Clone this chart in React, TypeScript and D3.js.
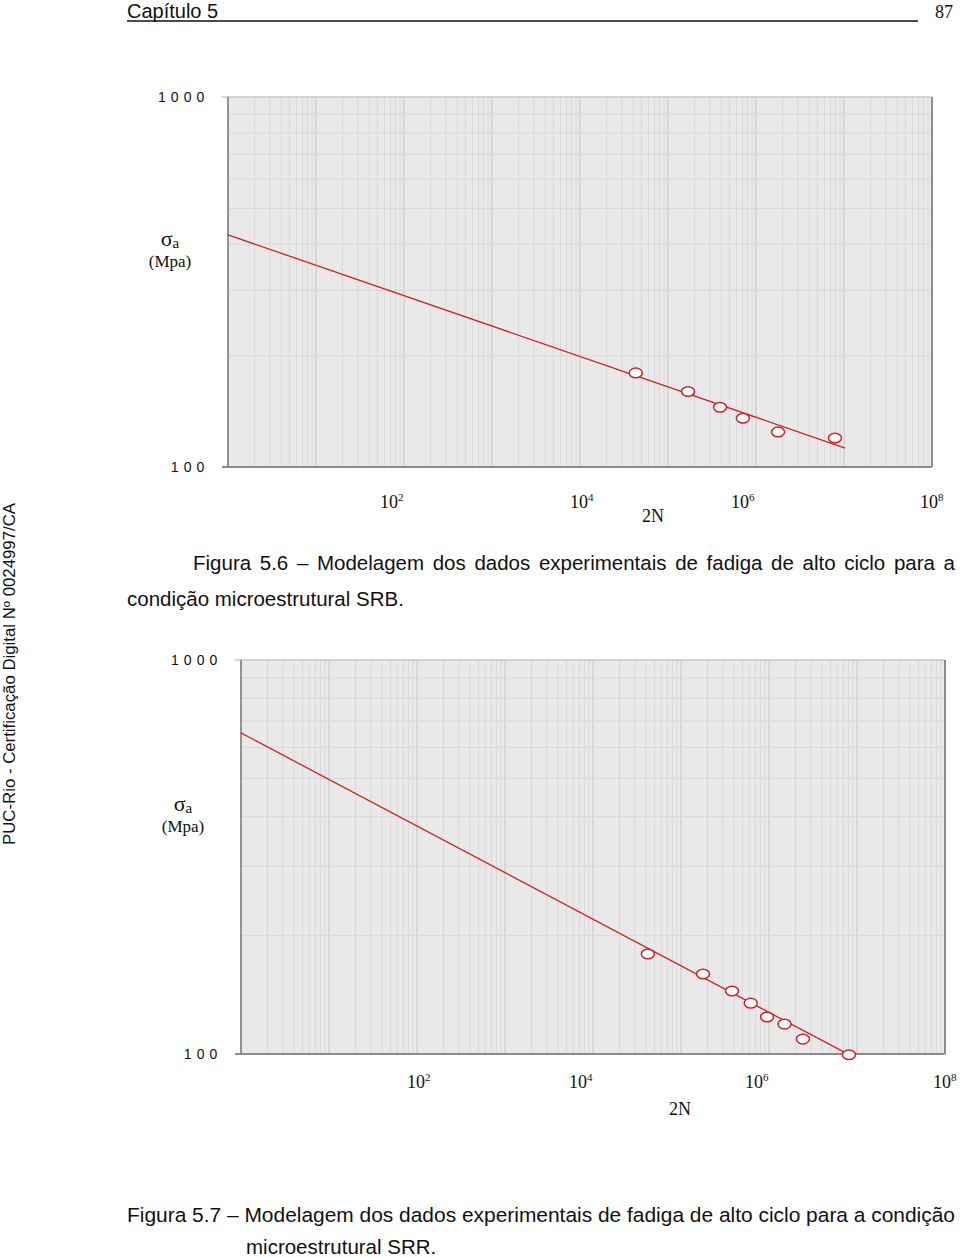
import React from "react";
import * as d3 from "d3";

// ---------- Data ----------
// Figura 5.6 – SRB
const srbN = [4.3e4, 1.69e5, 3.9e5, 7.1e5, 1.78e6, 7.9e6];
const srbS = [179.6, 160, 145, 135.5, 124.4, 119.8];
const srbFitN = [1, 1.03e7];
const srbFitS = [424, 112.5];

// Figura 5.7 – SRR
const srrN = [4.2e4, 1.78e5, 3.8e5, 6.2e5, 9.5e5, 1.5e6, 2.43e6, 8.1e6];
const srrS = [179.4, 159.6, 144.5, 134.6, 124.1, 119.1, 109.1, 99.6];
const srrFitN = [1, 8.1e6];
const srrFitS = [653, 99.6];

const xDomain = [1, 1e8];
const yDomain = [100, 1000];
const xTickExps = [2, 4, 6, 8];
const yTickValues = [100, 1000];
const yTickLabels = ["1 0 0", "1 0 0 0"];

const caption1Line1 = "Figura 5.6 – Modelagem dos dados experimentais de fadiga de alto ciclo para a";
const caption1Line2 = "condição microestrutural SRB.";
const caption2Line1 = "Figura 5.7 – Modelagem dos dados experimentais de fadiga de alto ciclo para a condição";
const caption2Line2 = "microestrutural SRR.";

const RED = "#d21f26";
const SANS = "'Liberation Sans', Arial, sans-serif";
const SERIF = "'Liberation Serif', 'Times New Roman', serif";
const CAP_SIZE = 20.5;

function measure(text: string, font: string): number {
  if (typeof document === "undefined") return text.length * 9;
  const c = document.createElement("canvas").getContext("2d");
  if (!c) return text.length * 9;
  c.font = font;
  return c.measureText(text).width;
}

type ChartProps = {
  left: number;
  top: number;
  width: number;
  height: number;
  ns: number[];
  ss: number[];
  fitN: number[];
  fitS: number[];
  tickLabelDx: number[];
  tickLabelDy: number;
  nLabelX: number;
  nLabelDy: number;
  sigmaLabelFrac: number;
};

function Chart(p: ChartProps) {
  const x = d3.scaleLog().domain(xDomain).range([p.left, p.left + p.width]);
  const y = d3.scaleLog().domain(yDomain).range([p.top + p.height, p.top]);

  const xMinor: number[] = [];
  for (let e = 0; e < 8; e++) {
    for (let k = 1; k <= 9; k++) xMinor.push(k * Math.pow(10, e));
  }
  const yMinor: number[] = [];
  for (let k = 1; k <= 9; k++) yMinor.push(k * 100);

  const line = d3
    .line<[number, number]>()
    .x((d) => x(d[0]))
    .y((d) => y(d[1]));
  const fit: [number, number][] = p.fitN.map((n, i) => [n, p.fitS[i]]);

  const bottom = p.top + p.height;
  const right = p.left + p.width;
  const sigmaY = p.top + p.height * p.sigmaLabelFrac;

  return (
    <g>
      <rect x={p.left} y={p.top} width={p.width} height={p.height} fill="#e9e9e9" />
      {xMinor.map((v, i) => {
        const major = Math.abs(Math.log10(v) - Math.round(Math.log10(v))) < 1e-9;
        return (
          <line
            key={"xv" + i}
            x1={x(v)}
            x2={x(v)}
            y1={p.top}
            y2={bottom}
            stroke={major ? "#c4c4c4" : "#d9d9d9"}
            strokeWidth={1}
          />
        );
      })}
      {yMinor.map((v, i) => (
        <line
          key={"yh" + i}
          x1={p.left}
          x2={right}
          y1={y(v)}
          y2={y(v)}
          stroke="#d9d9d9"
          strokeWidth={1}
        />
      ))}
      {/* borders */}
      <line x1={p.left - 6} x2={right} y1={p.top} y2={p.top} stroke="#c8c8c8" strokeWidth={1.5} />
      <line x1={right} x2={right} y1={p.top} y2={bottom} stroke="#8c8c8c" strokeWidth={2} />
      <line x1={p.left - 6} x2={right} y1={bottom} y2={bottom} stroke="#8c8c8c" strokeWidth={2} />
      <line x1={p.left} x2={p.left} y1={p.top} y2={bottom} stroke="#7a7a7a" strokeWidth={1.5} />

      {/* y tick labels */}
      {yTickValues.map((v, i) => (
        <text
          key={"yt" + i}
          x={p.left - 23}
          y={y(v) + 5}
          textAnchor="end"
          fontFamily={SANS}
          fontSize={14}
          letterSpacing={0.6}
          fill="#111"
        >
          {yTickLabels[i]}
        </text>
      ))}

      {/* x tick labels */}
      {xTickExps.map((e, i) => (
        <text
          key={"xt" + e}
          x={x(Math.pow(10, e)) + p.tickLabelDx[i]}
          y={bottom + p.tickLabelDy}
          fontFamily={SERIF}
          fontSize={18}
          fill="#111"
        >
          10
          <tspan fontSize={11} dy={-7}>
            {e}
          </tspan>
        </text>
      ))}
      <text
        x={p.nLabelX}
        y={bottom + p.nLabelDy}
        textAnchor="middle"
        fontFamily={SERIF}
        fontSize={18}
        fill="#111"
      >
        2N
      </text>

      {/* sigma label */}
      <text x={p.left - 58} y={sigmaY - 14} textAnchor="middle" fontFamily={SERIF} fontSize={22} fill="#111">
        σ
        <tspan fontSize={15} dy={2}>
          a
        </tspan>
      </text>
      <text x={p.left - 58} y={sigmaY + 7} textAnchor="middle" fontFamily={SERIF} fontSize={17} fill="#111">
        (Mpa)
      </text>

      {/* fit line */}
      <path d={line(fit) || ""} fill="none" stroke={RED} strokeWidth={1.3} />

      {/* data points */}
      {p.ns.map((n, i) => (
        <ellipse
          key={"pt" + i}
          cx={x(n)}
          cy={y(p.ss[i])}
          rx={6.5}
          ry={4.8}
          fill="#ffffff"
          stroke={RED}
          strokeWidth={1.5}
        />
      ))}
    </g>
  );
}

export default function App() {
  const capFont = `${CAP_SIZE}px ${SANS}`;
  const cap1Natural = measure(caption1Line1, capFont);
  const cap1Spaces = (caption1Line1.match(/ /g) || []).length;
  const cap1WordSpacing = Math.max(0, (762 - cap1Natural) / cap1Spaces);

  return (
    <svg
      width={960}
      height={1258}
      viewBox="0 0 960 1258"
      style={{ position: "absolute", left: 0, top: 0, display: "block", background: "#fff" }}
    >
      <rect x={0} y={0} width={960} height={1258} fill="#fff" />
      {/* header */}
      <text x={127} y={18} fontFamily={SANS} fontSize={20} fill="#111">
        Capítulo 5
      </text>
      <line x1={127} x2={918} y1={21} y2={21} stroke="#111" strokeWidth={1.5} />
      <text x={953} y={18} textAnchor="end" fontFamily={SERIF} fontSize={18} fill="#111">
        87
      </text>

      {/* side stamp */}
      <text
        transform="translate(15,845) rotate(-90)"
        x={0}
        y={0}
        fontFamily={SANS}
        fontSize={16}
        textLength={342}
        lengthAdjust="spacingAndGlyphs"
        fill="#111"
      >
        PUC-Rio - Certificação Digital Nº 0024997/CA
      </text>

      <Chart
        left={228}
        top={97}
        width={704}
        height={370}
        ns={srbN}
        ss={srbS}
        fitN={srbFitN}
        fitS={srbFitS}
        tickLabelDx={[-24, -10, -25, -12]}
        tickLabelDy={41}
        nLabelX={653}
        nLabelDy={55}
        sigmaLabelFrac={0.44}
      />

      <text
        x={193}
        y={570}
        fontFamily={SANS}
        fontSize={CAP_SIZE}
        wordSpacing={cap1WordSpacing}
        fill="#111"
      >
        {caption1Line1}
      </text>
      <text x={127} y={606} fontFamily={SANS} fontSize={CAP_SIZE} fill="#111">
        {caption1Line2}
      </text>

      <Chart
        left={241}
        top={660}
        width={704}
        height={394}
        ns={srrN}
        ss={srrS}
        fitN={srrFitN}
        fitS={srrFitS}
        tickLabelDx={[-10, -24, -24, -12]}
        tickLabelDy={34}
        nLabelX={680}
        nLabelDy={61}
        sigmaLabelFrac={0.42}
      />

      <text
        x={127}
        y={1222}
        fontFamily={SANS}
        fontSize={CAP_SIZE}
        textLength={828}
        lengthAdjust="spacingAndGlyphs"
        fill="#111"
      >
        {caption2Line1}
      </text>
      <text x={246} y={1254} fontFamily={SANS} fontSize={CAP_SIZE} fill="#111">
        {caption2Line2}
      </text>
    </svg>
  );
}
